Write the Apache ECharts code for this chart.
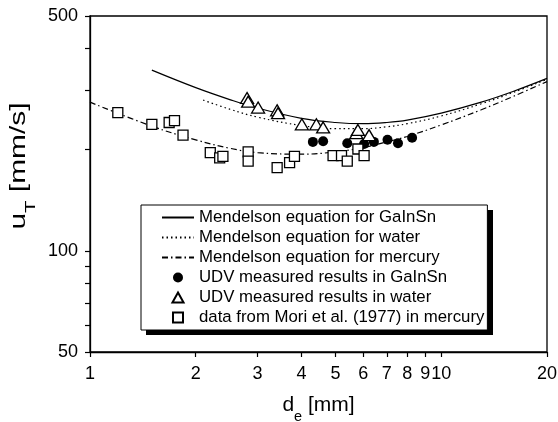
<!DOCTYPE html>
<html><head><meta charset="utf-8">
<script src="https://cdn.jsdelivr.net/npm/echarts@6/dist/echarts.min.js"></script>
<style>html,body{margin:0;padding:0;background:#fff}#c{width:558px;height:422px}</style>
</head><body><div id="c"></div>
<script>
// ---- axis ticks / labels ----
const xTickValues = [1, 2, 3, 4, 5, 6, 7, 8, 9, 10, 20];
const xLabelValues = [1, 2, 3, 4, 5, 6, 7, 8, 9, 10, 20];
const yTickValues = [50, 60, 70, 80, 90, 100, 200, 300, 400, 500];
const yLabelValues = [50, 100, 500];

// ---- Mendelson curves (d_e [mm], u_T [mm/s]) ----
const gainsnCurveD = [1.5, 2, 2.5, 3, 4, 5, 6, 7, 8, 10, 13, 16, 20];
const gainsnCurveU = [345, 306, 282, 266, 248, 241, 239, 241, 245, 257, 277, 298, 326];
const waterCurveD = [2.1, 2.5, 3, 4, 5, 6, 7, 8, 10, 13, 16, 20];
const waterCurveU = [281, 264, 250, 236, 231, 231, 234, 239, 252, 274, 296, 324];
const mercuryCurveD = [1, 1.5, 2, 2.5, 3, 4, 5, 6, 7, 8, 10, 13, 16, 20];
const mercuryCurveU = [277, 235, 214, 202, 196, 194, 197, 203, 211, 219, 237, 263, 288, 319];

// ---- measured points ----
const udvGainsnD = [4.31, 4.61, 5.40, 6.03, 6.43, 7.03, 7.53, 8.26];
const udvGainsnU = [211, 212, 209, 208, 211, 214, 209, 217];
const udvWaterD = [2.80, 2.82, 3.01, 3.41, 3.43, 4.01, 4.41, 4.61, 5.73, 5.79, 6.23];
const udvWaterU = [285, 278, 267, 262, 257, 238, 238, 233, 224, 229, 221];
const moriD = [1.20, 1.50, 1.68, 1.74, 1.84, 2.20, 2.34, 2.39, 2.82, 2.82, 3.41, 3.70, 3.82, 4.92, 5.20, 5.40, 5.79, 6.03];
const moriU = [258, 238, 241, 244, 221, 196, 189, 191, 197, 185, 177, 183, 191, 192, 192, 185, 201, 192];

const legendNames = [
  'Mendelson equation for GaInSn',
  'Mendelson equation for water',
  'Mendelson equation for mercury',
  'UDV measured results in GaInSn',
  'UDV measured results in water',
  'data from Mori et al. (1977) in mercury'
];
const yTitle = '{n|u}{s|T}{n| [mm/s]}';
const xTitle = '{n|d}{s|e}{n| [mm]}';

const FONT = 'Liberation Sans, Arial, Helvetica, sans-serif';
const zip = (a, b) => a.map((v, i) => [v, b[i]]);
const fmt = v => String(Math.round(v * 1000) / 1000);
const hiddenSymbol = {color: 'rgba(0,0,0,0)', borderColor: 'rgba(0,0,0,0)', borderWidth: 0, opacity: 0};
const triangleIcon = 'path://M5,0L10,9L0,9Z';
const squareIcon = 'path://M0,0L8,0L8,8L0,8Z';

const chart = echarts.init(document.getElementById('c'), null, {renderer: 'canvas'});
const axisCommon = {
  type: 'log', logBase: 10,
  axisLine: {show: true, onZero: false, lineStyle: {color: '#000', width: 1.3}},
  splitLine: {show: false},
  minorTick: {show: false},
  nameLocation: 'middle'
};
chart.setOption({
  animation: false,
  backgroundColor: '#fff',
  grid: {left: 90, right: 11, top: 16, bottom: 70, containLabel: false, outerBoundsMode: 'none',
         show: true, borderColor: '#000', borderWidth: 1.3, backgroundColor: 'transparent'},
  xAxis: Object.assign({}, axisCommon, {
    min: 1, max: 20,
    axisTick: {show: true, inside: false, length: 5, customValues: xTickValues, lineStyle: {color: '#000', width: 1.2}},
    axisLabel: {customValues: xLabelValues, margin: 13, fontSize: 18, color: '#000', fontFamily: FONT, formatter: fmt},
    name: xTitle,
    nameGap: 43,
    nameTextStyle: {
      color: '#000',
      rich: {
        n: {fontSize: 21, fontFamily: FONT, color: '#000', lineHeight: 25, verticalAlign: 'top'},
        s: {fontSize: 14.5, fontFamily: FONT, color: '#000', lineHeight: 14.5, padding: [14, 0, 0, 0], verticalAlign: 'top'}
      }
    }
  }),
  yAxis: Object.assign({}, axisCommon, {
    min: 50, max: 500,
    axisTick: {show: true, inside: false, length: 5, customValues: yTickValues, lineStyle: {color: '#000', width: 1.2}},
    axisLabel: {customValues: yLabelValues, margin: 12, fontSize: 18, color: '#000', fontFamily: FONT, formatter: fmt}
  }),
  legend: {
    orient: 'vertical', left: 141, top: 205, z: 5,
    padding: [4, 3, 4, 20],
    itemWidth: 32, itemHeight: 10, itemGap: 3,
    symbolKeepAspect: true,
    selectedMode: false,
    textStyle: {fontSize: 16.8, lineHeight: 17, color: '#000', fontFamily: FONT},
    backgroundColor: '#fff', borderColor: '#000', borderWidth: 1, borderRadius: 0,
    data: [
      {name: legendNames[0], itemStyle: hiddenSymbol},
      {name: legendNames[1], itemStyle: hiddenSymbol},
      {name: legendNames[2], itemStyle: hiddenSymbol},
      {name: legendNames[3]},
      {name: legendNames[4], icon: triangleIcon},
      {name: legendNames[5], icon: squareIcon}
    ]
  },
  graphic: [
    {type: 'rect', z: 4, silent: true, shape: {x: 146, y: 210, width: 347, height: 125}, style: {fill: '#000'}},
    {type: 'text', z: 5, silent: true, x: 21, y: 166, rotation: Math.PI / 2, scaleX: 1.36, scaleY: 1,
     style: {
       text: yTitle, fill: '#000', align: 'center', verticalAlign: 'middle',
       rich: {
         n: {fontSize: 22, fontFamily: FONT, fill: '#000', lineHeight: 26, verticalAlign: 'top'},
         s: {fontSize: 15, fontFamily: FONT, fill: '#000', lineHeight: 15, padding: [15, 0, 0, 0], verticalAlign: 'top'}
       }
     }}
  ],
  series: [
    {name: legendNames[0], type: 'line', data: zip(gainsnCurveD, gainsnCurveU), smooth: 0.4, symbol: 'none', showSymbol: false,
     lineStyle: {color: '#000', width: 1.2, type: 'solid'}, itemStyle: {color: '#000'}, z: 2},
    {name: legendNames[1], type: 'line', data: zip(waterCurveD, waterCurveU), smooth: 0.4, symbol: 'none', showSymbol: false,
     lineStyle: {color: '#000', width: 1.2, type: [1.5, 3]}, itemStyle: {color: '#000'}, z: 2},
    {name: legendNames[2], type: 'line', data: zip(mercuryCurveD, mercuryCurveU), smooth: 0.4, symbol: 'none', showSymbol: false,
     lineStyle: {color: '#000', width: 1.2, type: [6, 3, 1.5, 3]}, itemStyle: {color: '#000'}, z: 2},
    {name: legendNames[3], type: 'scatter', data: zip(udvGainsnD, udvGainsnU), symbol: 'circle', symbolSize: 10,
     itemStyle: {color: '#000', opacity: 1}, z: 3},
    {name: legendNames[4], type: 'scatter', data: zip(udvWaterD, udvWaterU), symbol: 'triangle', symbolSize: [13, 11],
     itemStyle: {color: '#fff', borderColor: '#000', borderWidth: 1.3, opacity: 1}, z: 4},
    {name: legendNames[5], type: 'scatter', data: zip(moriD, moriU), symbol: 'rect', symbolSize: 10,
     itemStyle: {color: '#fff', borderColor: '#000', borderWidth: 1.3, opacity: 1}, z: 3}
  ]
});
</script>
</body></html>
